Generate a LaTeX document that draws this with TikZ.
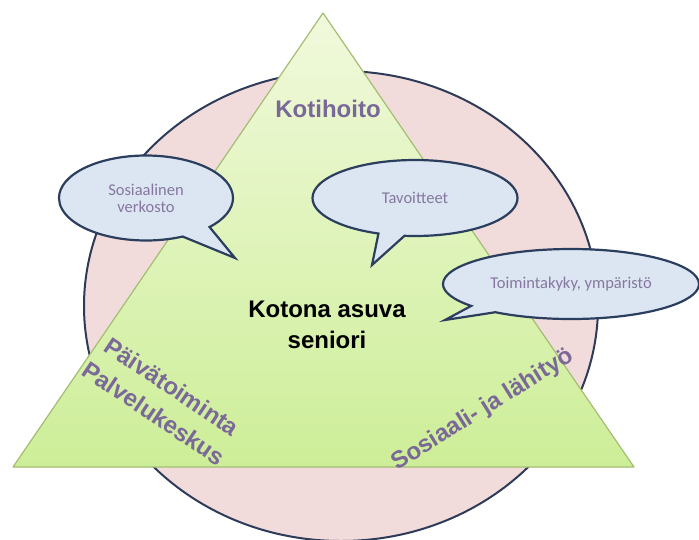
\documentclass[tikz,border=0pt]{standalone}
\usepackage{fontspec}
\setmainfont{Liberation Sans}
\newfontfamily\bubblefont{Carlito}
\usetikzlibrary{shapes.callouts}

\definecolor{rosefill}{HTML}{F2DCDB}
\definecolor{ringline}{HTML}{2E3B58}
\definecolor{trtop}{HTML}{F1F9DC}
\definecolor{trbottom}{HTML}{CDEE98}
\definecolor{trline}{HTML}{A4BD72}
\definecolor{bubblefill}{HTML}{DCE6F2}
\definecolor{bubbleline}{HTML}{2B3E5E}
\definecolor{bubbletext}{HTML}{85779F}
\definecolor{labelpurple}{HTML}{7A6898}

\begin{document}
\begin{tikzpicture}[x=1pt, y=-1pt,
    bubble/.style={ellipse callout, draw=bubbleline, fill=bubblefill,
        line width=2.2pt, inner sep=0pt, align=center, text=bubbletext,
        font=\bubblefont\fontsize{16.5}{17}\selectfont},
    sidelabel/.style={font=\bfseries\fontsize{24}{32}\selectfont,
        text=labelpurple, align=center, inner sep=0pt}]

    \useasboundingbox (0,0) rectangle (699,539);

    % ================= RING (back) =================
    \draw[fill=rosefill, draw=ringline, line width=2pt]
        (341,306) ellipse [x radius=257, y radius=235];

    % ================= TRIANGLE =================
    % 1. Corners
    \coordinate (apex) at (323,13);
    \coordinate (bl)   at (13,467);
    \coordinate (br)   at (634,467);

    % 2. Shaded body
    \draw[top color=trtop, bottom color=trbottom, draw=trline,
          line width=1.2pt, line join=round] (apex) -- (bl) -- (br) -- cycle;

    % 3. Labels on the sides
    \node[sidelabel, anchor=base] (kotihoito) at (328,117) {Kotihoito};
    \node[sidelabel, rotate=-33.8] (paiva) at (163,400)
        {Päivätoiminta\\Palvelukeskus};
    \node[sidelabel, rotate=32] (sosiaali) at (483,410)
        {Sosiaali- ja lähityö};

    % 4. Centre text
    \node[font=\bfseries\fontsize{24}{31}\selectfont, align=center,
          inner sep=0pt] (senior) at (327,325) {Kotona asuva\\seniori};

    % ================= SPEECH BUBBLES =================
    \coordinate (sostip) at (235,258);
    \coordinate (tavtip) at (372,265);
    \coordinate (toitip) at (445,320);

    \node[bubble, minimum width=174pt, minimum height=85pt,
          callout pointer arc=22, callout absolute pointer={(sostip)}]
        (verkosto) at (146,198) {Sosiaalinen\\verkosto};
    \node[bubble, minimum width=205pt, minimum height=76pt,
          callout pointer arc=15, callout absolute pointer={(tavtip)}]
        (tavoitteet) at (415,198) {Tavoitteet};
    \node[bubble, minimum width=256pt, minimum height=70pt,
          callout pointer arc=15, callout absolute pointer={(toitip)}]
        (toimintakyky) at (571,284) {Toimintakyky, ympäristö};

\end{tikzpicture}
\end{document}
